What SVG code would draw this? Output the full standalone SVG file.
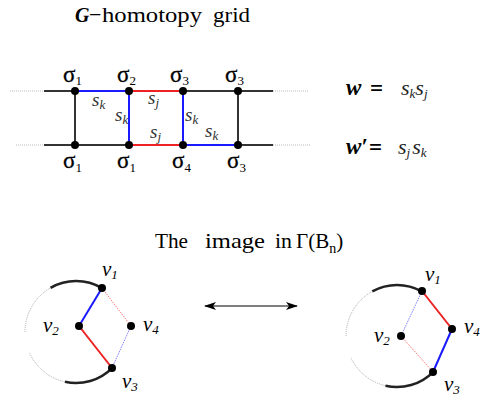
<svg xmlns="http://www.w3.org/2000/svg" width="482" height="398" viewBox="0 0 482 398">
<defs>
<style>
text{font-family:"Liberation Serif","Times New Roman",serif;fill:#000}
.bi{font-style:italic;font-weight:bold}
.sig{font-size:23px;stroke:#000;stroke-width:0.3}
.sub{font-size:13px;stroke:none}
.s{font-style:italic;font-size:19px;fill:#333}
.eq{font-style:italic;font-size:22px;fill:#222}
.v{font-style:italic;font-size:21px}
.blk{stroke:#333;stroke-width:2;fill:none}
.blue{stroke:#1a1aff;stroke-width:2;fill:none}
.red{stroke:#ee2222;stroke-width:2;fill:none}
.dot{stroke:#bbb;stroke-width:1;stroke-dasharray:1 1;fill:none}
.tblue{stroke:#8080ff;stroke-width:1;stroke-dasharray:1.5 1;fill:none}
.tred{stroke:#ff8080;stroke-width:1;stroke-dasharray:1.5 1;fill:none}
.gray{stroke:#aaa;stroke-width:1;stroke-dasharray:1 1;fill:none}
.arc{stroke:#222;stroke-width:2.6;fill:none}
.n{fill:#000}
</style>
<marker id="ah" viewBox="0 0 12 8" refX="11" refY="4" markerWidth="12" markerHeight="8" markerUnits="userSpaceOnUse" orient="auto-start-reverse">
<path d="M0,0 L12,4 L0,8 L3,4 Z" fill="#000"/>
</marker>
</defs>

<g id="title" font-size="22">
<text x="75" y="22" class="bi" font-size="20">G</text>
<text x="89" y="22">−</text>
<text x="102" y="22" textLength="100" lengthAdjust="spacingAndGlyphs">homotopy</text>
<text x="213" y="22" textLength="37" lengthAdjust="spacingAndGlyphs">grid</text>
</g>

<g id="connectors">
<line class="dot" x1="10" y1="91" x2="44" y2="91"/>
<line class="dot" x1="273" y1="91" x2="308" y2="91"/>
<line class="dot" x1="16" y1="145" x2="44" y2="145"/>
<line class="dot" x1="273" y1="145" x2="310" y2="145"/>
<line class="blk" x1="44" y1="91" x2="75" y2="91"/>
<line class="blue" x1="75" y1="91" x2="129" y2="91"/>
<line class="red" x1="129" y1="91" x2="183" y2="91"/>
<line class="blk" x1="183" y1="91" x2="273" y2="91"/>
<line class="blk" x1="44" y1="145" x2="129" y2="145"/>
<line class="red" x1="129" y1="145" x2="183" y2="145"/>
<line class="blue" x1="183" y1="145" x2="238" y2="145"/>
<line class="blk" x1="238" y1="145" x2="273" y2="145"/>
<line class="blk" x1="75" y1="91" x2="75" y2="145"/>
<line class="blue" x1="129" y1="91" x2="129" y2="145"/>
<line class="blue" x1="183" y1="91" x2="183" y2="145"/>
<line class="blk" x1="238" y1="91" x2="238" y2="145"/>

<path class="arc" d="M50.5,287.8 A51,51 0 0 1 102,288.1"/>
<path class="gray" d="M25,332 A51,51 0 0 1 50.5,287.8"/>
<path class="gray" d="M65,381.8 A51,51 0 0 1 29.2,352.3"/>
<path class="arc" d="M112.1,368.1 A51,51 0 0 1 65,381.8"/>
<line class="blue" x1="102" y1="288" x2="79" y2="326" stroke-width="2.5"/>
<line class="red" x1="79" y1="326" x2="112" y2="368" stroke-width="2.5"/>
<line class="tred" x1="102" y1="288" x2="131" y2="326"/>
<line class="tblue" x1="131" y1="326" x2="112" y2="368"/>

<path class="arc" d="M372.3,291.4 A51,51 0 0 1 421.7,291.4"/>
<path class="gray" d="M346,336 A51,51 0 0 1 372.3,291.4"/>
<path class="gray" d="M385.5,385.7 A51,51 0 0 1 350.8,357.6"/>
<path class="arc" d="M433.1,372.1 A51,51 0 0 1 385.5,385.7"/>
<line class="red" x1="422" y1="291" x2="452" y2="329" stroke-width="2.5"/>
<line class="blue" x1="452" y1="329" x2="433" y2="372" stroke-width="2.5"/>
<line class="tblue" x1="422" y1="291" x2="401" y2="336"/>
<line class="tred" x1="401" y1="336" x2="433" y2="372"/>

<line x1="205" y1="306" x2="297" y2="306" stroke="#000" stroke-width="1.2" marker-start="url(#ah)" marker-end="url(#ah)"/>
</g>

<g id="grid-nodes">
<g id="t1"><circle class="n" cx="75" cy="91" r="4"/><text class="sig" x="63" y="82">σ<tspan class="sub" dy="3">1</tspan></text></g>
<g id="t2"><circle class="n" cx="129" cy="91" r="4"/><text class="sig" x="117" y="82">σ<tspan class="sub" dy="3">2</tspan></text></g>
<g id="t3"><circle class="n" cx="183" cy="91" r="4"/><text class="sig" x="170" y="82">σ<tspan class="sub" dy="3">3</tspan></text></g>
<g id="t4"><circle class="n" cx="238" cy="91" r="4"/><text class="sig" x="225" y="82">σ<tspan class="sub" dy="3">3</tspan></text></g>
<g id="b1"><circle class="n" cx="75" cy="145" r="4"/><text class="sig" x="63" y="168">σ<tspan class="sub" dy="4">1</tspan></text></g>
<g id="b2"><circle class="n" cx="129" cy="145" r="4"/><text class="sig" x="117" y="168">σ<tspan class="sub" dy="4">1</tspan></text></g>
<g id="b3"><circle class="n" cx="183" cy="145" r="4"/><text class="sig" x="172" y="168">σ<tspan class="sub" dy="4">4</tspan></text></g>
<g id="b4"><circle class="n" cx="238" cy="145" r="4"/><text class="sig" x="227" y="168">σ<tspan class="sub" dy="4">3</tspan></text></g>
</g>

<g id="edge-labels">
<text class="s" x="92" y="106">s<tspan class="sub" dy="3">k</tspan></text>
<text class="s" x="148" y="104">s<tspan class="sub" dy="3">j</tspan></text>
<text class="s" x="115" y="121">s<tspan class="sub" dy="3">k</tspan></text>
<text class="s" x="150" y="138">s<tspan class="sub" dy="3">j</tspan></text>
<text class="s" x="185" y="121">s<tspan class="sub" dy="3">k</tspan></text>
<text class="s" x="205" y="137">s<tspan class="sub" dy="3">k</tspan></text>
</g>

<g id="equations">
<text x="346" y="95" font-size="23" class="bi">w</text>
<text x="370" y="96" font-size="23" font-weight="bold">=</text>
<text class="eq" x="401" y="95">s<tspan class="sub" dy="3">k</tspan><tspan dy="-3">s</tspan><tspan class="sub" dy="3">j</tspan></text>
<text x="346" y="154" font-size="23" class="bi">w′</text>
<text x="369" y="155" font-size="23" font-weight="bold">=</text>
<text class="eq" x="398" y="154">s<tspan class="sub" dy="3">j</tspan><tspan dy="-3" dx="2">s</tspan><tspan class="sub" dy="3">k</tspan></text>
</g>

<g id="subtitle" font-size="21">
<text x="155" y="248" textLength="33" lengthAdjust="spacingAndGlyphs">The</text>
<text x="205" y="248" textLength="60" lengthAdjust="spacingAndGlyphs">image</text>
<text x="275" y="248" textLength="17" lengthAdjust="spacingAndGlyphs">in</text>
<text x="296" y="248">Γ(B<tspan font-size="14" dy="5">n</tspan><tspan dy="-5">)</tspan></text>
</g>

<g id="left-figure">
<g id="Lv1"><circle class="n" cx="102" cy="288" r="4"/><text class="v" x="102" y="276">v<tspan class="sub" dy="3">1</tspan></text></g>
<g id="Lv2"><circle class="n" cx="79" cy="326" r="4"/><text class="v" x="43" y="332">v<tspan class="sub" dy="3">2</tspan></text></g>
<g id="Lv4"><circle class="n" cx="131" cy="326" r="4"/><text class="v" x="143" y="331">v<tspan class="sub" dy="3">4</tspan></text></g>
<g id="Lv3"><circle class="n" cx="112" cy="368" r="4"/><text class="v" x="122" y="388">v<tspan class="sub" dy="3">3</tspan></text></g>
</g>

<g id="right-figure">
<g id="Rv1"><circle class="n" cx="422" cy="291" r="4"/><text class="v" x="425" y="281">v<tspan class="sub" dy="3">1</tspan></text></g>
<g id="Rv2"><circle class="n" cx="401" cy="336" r="4"/><text class="v" x="374" y="342">v<tspan class="sub" dy="3">2</tspan></text></g>
<g id="Rv4"><circle class="n" cx="452" cy="329" r="4"/><text class="v" x="464" y="333">v<tspan class="sub" dy="3">4</tspan></text></g>
<g id="Rv3"><circle class="n" cx="433" cy="372" r="4"/><text class="v" x="444" y="391">v<tspan class="sub" dy="3">3</tspan></text></g>
</g>
</svg>
